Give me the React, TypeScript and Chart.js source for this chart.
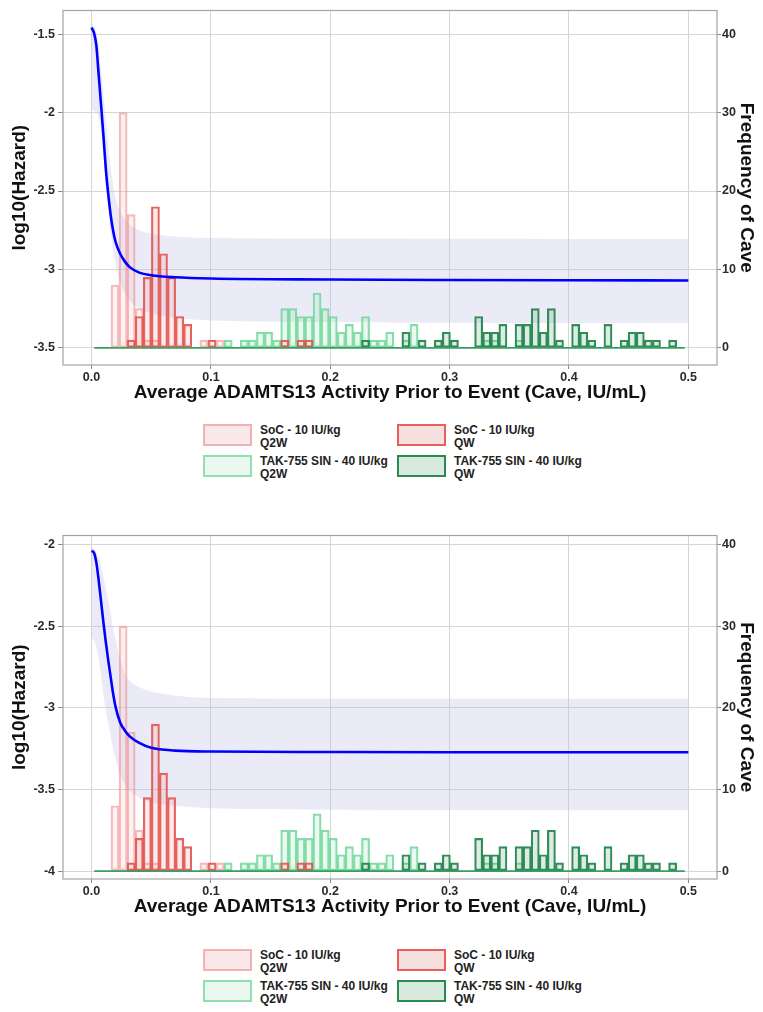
import React, { useEffect, useRef } from 'react';
import { Chart, registerables } from 'chart.js';

Chart.register(...registerables);

// ---------- data ----------
const SERIES_NAMES = [
  ['SoC - 10 IU/kg', 'Q2W'],
  ['SoC - 10 IU/kg', 'QW'],
  ['TAK-755 SIN - 40 IU/kg', 'Q2W'],
  ['TAK-755 SIN - 40 IU/kg', 'QW'],
];

// histogram bins (Cave, IU/mL)
const BIN_START = 0.0163;
const BIN_WIDTH = 0.00677;

const SOC_Q2W = [
  8, 30, 17, 5, 1, 1, 0, 0, 0, 0,
  0, 1, 0, 1, 0, 0, 0, 0, 0, 0,
  0, 0, 0, 0, 0, 0, 0, 0, 0, 0,
  0, 0, 0, 0, 0, 0, 0, 0, 0, 0,
  0, 0, 0, 0, 0, 0, 0, 0, 0, 0,
  0, 0, 0, 0, 0, 0, 0, 0, 0, 0,
  0, 0, 0, 0, 0, 0, 0, 0, 0, 0,
];
const SOC_QW = [
  0, 0, 1, 4, 9, 18, 12, 9, 4, 3,
  0, 0, 1, 0, 0, 0, 0, 0, 0, 0,
  0, 1, 0, 1, 1, 0, 0, 0, 0, 0,
  0, 0, 0, 0, 0, 0, 0, 0, 0, 0,
  0, 0, 0, 0, 0, 0, 0, 0, 0, 0,
  0, 0, 0, 0, 0, 0, 0, 0, 0, 0,
  0, 0, 0, 0, 0, 0, 0, 0, 0, 0,
];
const TAK_Q2W = [
  0, 0, 0, 0, 0, 0, 0, 0, 0, 0,
  0, 0, 0, 0, 1, 0, 1, 1, 2, 2,
  1, 5, 5, 4, 4, 7, 5, 4, 2, 3,
  2, 4, 1, 1, 2, 0, 1, 3, 0, 0,
  0, 0, 0, 0, 0, 0, 1, 1, 0, 0,
  1, 0, 0, 0, 0, 0, 0, 0, 0, 0,
  0, 0, 0, 0, 0, 0, 0, 0, 0, 0,
];
const TAK_QW = [
  0, 0, 0, 0, 0, 0, 0, 0, 0, 0,
  0, 0, 0, 0, 0, 0, 0, 0, 0, 0,
  0, 0, 0, 0, 0, 0, 0, 0, 0, 0,
  0, 1, 0, 0, 0, 0, 2, 0, 1, 0,
  1, 2, 1, 0, 0, 4, 2, 2, 3, 0,
  3, 3, 5, 2, 5, 1, 0, 3, 2, 1,
  0, 3, 0, 1, 2, 2, 1, 1, 0, 1,
];
const BASELINE_X = [0.0023, 0.497];

// fitted hazard curve with confidence band
const CURVE_X = [0, 0.002, 0.004, 0.006, 0.008, 0.01, 0.012, 0.014, 0.016, 0.018, 0.02, 0.024, 0.028, 0.032, 0.04, 0.05, 0.07, 0.1, 0.2, 0.3, 0.4, 0.5];

const TOP_HAZARD = [-1.458, -1.49, -1.57, -1.76, -1.95, -2.15, -2.36, -2.52, -2.65, -2.75, -2.82, -2.9, -2.95, -2.985, -3.02, -3.037, -3.05, -3.058, -3.064, -3.067, -3.069, -3.07];
const TOP_UPPER = [-1.44, -1.45, -1.49, -1.58, -1.72, -1.88, -2.05, -2.21, -2.35, -2.46, -2.54, -2.63, -2.68, -2.715, -2.75, -2.77, -2.79, -2.8, -2.803, -2.804, -2.805, -2.805];
const TOP_LOWER = [-1.98, -1.99, -2.0, -2.03, -2.12, -2.27, -2.45, -2.62, -2.76, -2.87, -2.96, -3.08, -3.15, -3.2, -3.25, -3.28, -3.31, -3.325, -3.335, -3.34, -3.342, -3.342];

const BOTTOM_HAZARD = [-2.04, -2.05, -2.11, -2.22, -2.35, -2.48, -2.6, -2.71, -2.81, -2.91, -2.99, -3.09, -3.14, -3.175, -3.215, -3.245, -3.262, -3.268, -3.271, -3.272, -3.272, -3.272];
const BOTTOM_UPPER = [-2.02, -2.03, -2.05, -2.08, -2.13, -2.2, -2.27, -2.34, -2.42, -2.51, -2.58, -2.7, -2.79, -2.835, -2.875, -2.9, -2.925, -2.94, -2.944, -2.945, -2.945, -2.945];
const BOTTOM_LOWER = [-2.57, -2.59, -2.63, -2.7, -2.8, -2.92, -3.02, -3.1, -3.17, -3.25, -3.31, -3.41, -3.47, -3.51, -3.55, -3.58, -3.6, -3.615, -3.624, -3.626, -3.627, -3.627];

// axes
const X_TICKS = [0, 0.1, 0.2, 0.3, 0.4, 0.5];
const X_RANGE = [-0.0239, 0.524];
const TOP_Y_TICKS = [-3.5, -3, -2.5, -2, -1.5];
const BOTTOM_Y_TICKS = [-4, -3.5, -3, -2.5, -2];
const FREQ_TICKS = [0, 10, 20, 30, 40];
const TOP_HAZ_RANGE = [-3.609, -1.349];
const TOP_FREQ_RANGE = [-2.18, 43.02];
const BOTTOM_HAZ_RANGE = [-4.048, -1.9456];
const BOTTOM_FREQ_RANGE = [-0.97, 41.09];

const X_TITLE = 'Average ADAMTS13 Activity Prior to Event (Cave, IU/mL)';
const Y_TITLE = 'log10(Hazard)';
const Y2_TITLE = 'Frequency of Cave';

// ---------- styles ----------
const FONT = "'Liberation Sans', Arial, Helvetica, sans-serif";
const HIST_STYLES = [
  { border: 'rgba(238,140,140,0.6)', fill: 'rgba(240,170,170,0.16)', legendBorder: '#f2b0b0', legendFill: '#f8e8e8' },
  { border: 'rgba(226,82,78,0.9)', fill: 'rgba(230,120,120,0.14)', legendBorder: '#e8605c', legendFill: '#f6e0e0' },
  { border: 'rgba(110,214,150,0.85)', fill: 'rgba(140,225,170,0.18)', legendBorder: '#8ee0ac', legendFill: '#ebf8f0' },
  { border: 'rgba(38,135,80,0.95)', fill: 'rgba(46,139,87,0.16)', legendBorder: '#2b8a52', legendFill: '#d8e9de' },
];
const HIST_SERIES = [SOC_Q2W, SOC_QW, TAK_Q2W, TAK_QW];
const HIST_ORDER = [5, 3, 4, 2];

const BIN_CENTERS = SOC_Q2W.map((_, i) => BIN_START + (i + 0.5) * BIN_WIDTH);

const panelBorder = {
  id: 'panelBorder',
  afterDraw(chart: any) {
    const { ctx, chartArea } = chart;
    ctx.save();
    ctx.strokeStyle = '#a3a3a3';
    ctx.lineWidth = 1.2;
    ctx.strokeRect(chartArea.left, chartArea.top, chartArea.right - chartArea.left, chartArea.bottom - chartArea.top);
    ctx.restore();
  },
};

type PanelProps = {
  hazard: number[];
  upper: number[];
  lower: number[];
  hazRange: number[];
  freqRange: number[];
  yTicks: number[];
  height: number;
};

function Panel({ hazard, upper, lower, hazRange, freqRange, yTicks, height }: PanelProps) {
  const ref = useRef<HTMLCanvasElement | null>(null);

  useEffect(() => {
    if (!ref.current) return;
    const tickFont = { family: FONT, weight: 'bold' as const, size: 12.5 };
    const titleFont = { family: FONT, weight: 'bold' as const, size: 19 };
    const pts = (ys: number[]) => CURVE_X.map((x, i) => ({ x, y: ys[i] }));

    const datasets: any[] = [
      {
        type: 'line', label: 'upper', data: pts(upper), yAxisID: 'y',
        borderWidth: 0, borderColor: 'rgba(0,0,0,0)', pointRadius: 0,
        cubicInterpolationMode: 'monotone', fill: '+1',
        backgroundColor: 'rgba(190,190,230,0.3)', order: 7,
      },
      {
        type: 'line', label: 'lower', data: pts(lower), yAxisID: 'y',
        borderWidth: 0, borderColor: 'rgba(0,0,0,0)', pointRadius: 0,
        cubicInterpolationMode: 'monotone', fill: false, order: 6,
      },
      ...HIST_SERIES.map((counts, s) => ({
        type: 'bar',
        label: SERIES_NAMES[s].join(' '),
        data: counts.map((c, i) => ({ x: BIN_CENTERS[i], y: c })),
        yAxisID: 'y2',
        backgroundColor: HIST_STYLES[s].fill,
        borderColor: HIST_STYLES[s].border,
        borderWidth: 1.5,
        borderSkipped: false,
        barPercentage: 1,
        categoryPercentage: 1,
        grouped: false,
        order: HIST_ORDER[s],
      })),
      {
        type: 'line', label: 'baseline',
        data: BASELINE_X.map((x) => ({ x, y: 0 })),
        yAxisID: 'y2', borderColor: '#3a9d62', borderWidth: 1.6, pointRadius: 0, fill: false, order: 1,
      },
      {
        type: 'line', label: 'hazard', data: pts(hazard), yAxisID: 'y',
        borderColor: '#0000ff', borderWidth: 2.6, pointRadius: 0,
        cubicInterpolationMode: 'monotone', fill: false, order: 0,
      },
    ];

    const chart = new Chart(ref.current, {
      type: 'line',
      data: { datasets },
      plugins: [panelBorder],
      options: {
        responsive: false,
        animation: false,
        events: [],
        layout: { padding: { top: 6, left: 0, right: 0, bottom: 0 } },
        plugins: { legend: { display: false }, tooltip: { enabled: false } },
        scales: {
          x: {
            type: 'linear', position: 'bottom', min: X_RANGE[0], max: X_RANGE[1], offset: false,
            afterBuildTicks: (s: any) => { s.ticks = X_TICKS.map((v) => ({ value: v })); },
            afterFit: (s: any) => { s.height = 45; },
            ticks: { autoSkip: false, maxRotation: 0, padding: 1, color: '#2a2a2a', font: tickFont,
              callback: (v: any) => Number(v).toFixed(1) },
            grid: { color: '#d6d6d6', lineWidth: 1, tickLength: 4, tickColor: '#8a8a8a', offset: false },
            border: { display: false },
            title: { display: true, text: X_TITLE, color: '#111', font: titleFont, padding: { top: 0, bottom: 6 } },
          },
          y: {
            type: 'linear', position: 'left', min: hazRange[0], max: hazRange[1],
            afterBuildTicks: (s: any) => { s.ticks = yTicks.map((v) => ({ value: v })); },
            afterFit: (s: any) => { s.width = 63; },
            ticks: { autoSkip: false, padding: 3, color: '#2a2a2a', font: tickFont,
              callback: (v: any) => String(v) },
            grid: { color: '#d6d6d6', lineWidth: 1, tickLength: 5, tickColor: '#8a8a8a' },
            border: { display: false },
            title: { display: true, text: Y_TITLE, color: '#111', font: titleFont, padding: { top: 8, bottom: 0 } },
          },
          y2: {
            type: 'linear', position: 'right', min: freqRange[0], max: freqRange[1],
            afterBuildTicks: (s: any) => { s.ticks = FREQ_TICKS.map((v) => ({ value: v })); },
            afterFit: (s: any) => { s.width = 46; },
            ticks: { autoSkip: false, padding: 1, color: '#2a2a2a', font: tickFont,
              callback: (v: any) => String(v) },
            grid: { drawOnChartArea: false, tickLength: 4, tickColor: '#8a8a8a' },
            border: { display: false },
            title: { display: true, text: Y2_TITLE, color: '#111', font: titleFont, padding: { top: 5, bottom: 0 } },
          },
        },
      } as any,
    });
    return () => chart.destroy();
  }, []);

  return <canvas ref={ref} width={763} height={height} style={{ display: 'block', width: 763, height }} />;
}

function Legend() {
  const cols = [203, 397];
  const rows = [424, 455];
  return (
    <>
      {SERIES_NAMES.map((lines, i) => {
        const col = i % 2;
        const row = Math.floor(i / 2);
        const st = HIST_STYLES[i];
        return (
          <div key={i}>
            <div
              style={{
                position: 'absolute', left: cols[col], top: rows[row], width: 49, height: 22,
                boxSizing: 'border-box', border: `2px solid ${st.legendBorder}`, background: st.legendFill,
              }}
            />
            <div
              style={{
                position: 'absolute', left: cols[col] + 57, top: rows[row], fontFamily: FONT,
                fontWeight: 'bold', fontSize: 12, lineHeight: '12.7px', color: '#222', whiteSpace: 'nowrap',
              }}
            >
              {lines[0]}
              <br />
              {lines[1]}
            </div>
          </div>
        );
      })}
    </>
  );
}

export default function App() {
  return (
    <div style={{ position: 'absolute', left: 0, top: 0, width: 763, height: 1012, overflow: 'hidden', background: '#fff' }}>
      <div style={{ position: 'absolute', left: 0, top: 0, width: 763, height: 525 }}>
        <Panel hazard={TOP_HAZARD} upper={TOP_UPPER} lower={TOP_LOWER}
          hazRange={TOP_HAZ_RANGE} freqRange={TOP_FREQ_RANGE} yTicks={TOP_Y_TICKS} height={410} />
        <Legend />
      </div>
      <div style={{ position: 'absolute', left: 0, top: 525, width: 763, height: 487 }}>
        <Panel hazard={BOTTOM_HAZARD} upper={BOTTOM_UPPER} lower={BOTTOM_LOWER}
          hazRange={BOTTOM_HAZ_RANGE} freqRange={BOTTOM_FREQ_RANGE} yTicks={BOTTOM_Y_TICKS} height={399} />
        <Legend />
      </div>
    </div>
  );
}
